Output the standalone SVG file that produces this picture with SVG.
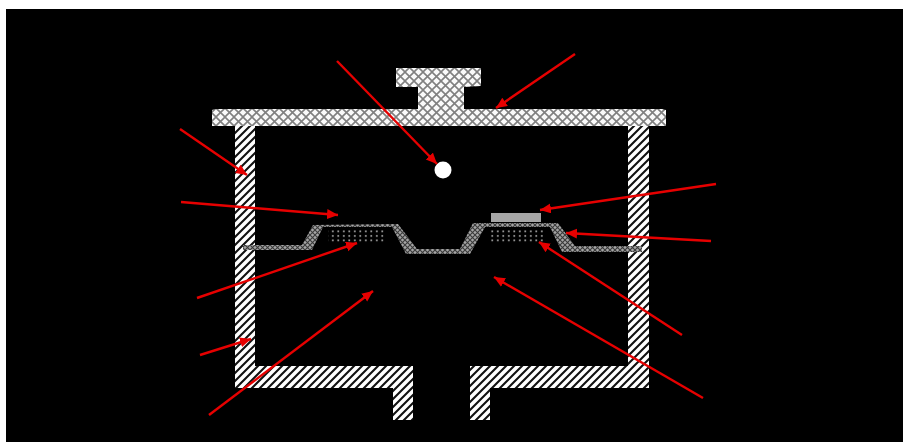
<svg xmlns="http://www.w3.org/2000/svg" width="903" height="442" viewBox="0 0 903 442">
<style>
.arrow{fill:none;stroke:#e60000;stroke-width:2.4;marker-end:url(#head)}
.hatch{fill:url(#stripes)}
.cross{fill:url(#xhatch)}
.mesh{fill:url(#fine)}
.dots{fill:url(#dotfill)}
</style>
<defs>
<marker id="head" markerUnits="userSpaceOnUse" markerWidth="13" markerHeight="11" refX="11" refY="5" orient="auto"><path d="M0 0L11 5L0 10Z" fill="#e60000"/></marker>
<pattern id="stripes" patternUnits="userSpaceOnUse" width="8" height="8"><rect width="8" height="8" fill="#fff"/><path d="M-2 2L2 -2M-2 10L10 -2M6 10L10 6" stroke="#111" stroke-width="2.1"/></pattern>
<pattern id="xhatch" patternUnits="userSpaceOnUse" width="9" height="9"><rect width="9" height="9" fill="#fafafa"/><path d="M0 0L9 9M9 0L0 9" stroke="#808080" stroke-width="1.6"/></pattern>
<pattern id="fine" patternUnits="userSpaceOnUse" width="5" height="5"><rect width="5" height="5" fill="#a4a4a4"/><path d="M0 0L5 5M5 0L0 5" stroke="#3a3a3a" stroke-width="1.1"/></pattern>
<pattern id="dotfill" patternUnits="userSpaceOnUse" width="5.5" height="4.5"><rect x="2" y="1" width="1.6" height="1.8" fill="#a8a8a8"/></pattern>
</defs>
<rect width="903" height="442" fill="#fff"/>
<rect x="6" y="9" width="897" height="433" fill="#000"/>
<g id="lid"><path class="cross" d="M396 68H481V86L464 87V109H662L666 110V126H212V110L215 109H418V87L396 87Z"/></g>
<g id="housing-left"><path class="hatch" d="M235 126H255V366H413V420H393V388H235Z"/></g>
<g id="housing-right"><path class="hatch" d="M628 126H649V388H490V420H470V366H628Z"/></g>
<g id="diaphragm"><path class="mesh" d="M243 245H302L313 225L398 224L417 249H460L473 223H558L575 246H642V252H562L550 227H485L470 254H406L392 227H323L312 250H243Z"/></g>
<g id="left-dots"><rect class="dots" x="328" y="230" width="56" height="13"/></g>
<g id="right-dots"><rect class="dots" x="488" y="230" width="57" height="13"/></g>
<g id="plate"><rect x="491" y="213" width="50" height="9" fill="#a6a6a6"/></g>
<g id="ball"><circle cx="443" cy="170" r="8.5" fill="#fff"/></g>
<g id="connectors">
<path class="arrow" d="M337 61L437 164"/>
<path class="arrow" d="M575 54L496 108"/>
<path class="arrow" d="M180 129L247 175"/>
<path class="arrow" d="M181 202L338 215"/>
<path class="arrow" d="M716 184L540 210"/>
<path class="arrow" d="M711 241L566 233"/>
<path class="arrow" d="M197 298L357 243"/>
<path class="arrow" d="M682 335L539 242"/>
<path class="arrow" d="M200 355L251 339"/>
<path class="arrow" d="M209 415L373 291"/>
<path class="arrow" d="M703 398L494 277"/>
</g>
</svg>
